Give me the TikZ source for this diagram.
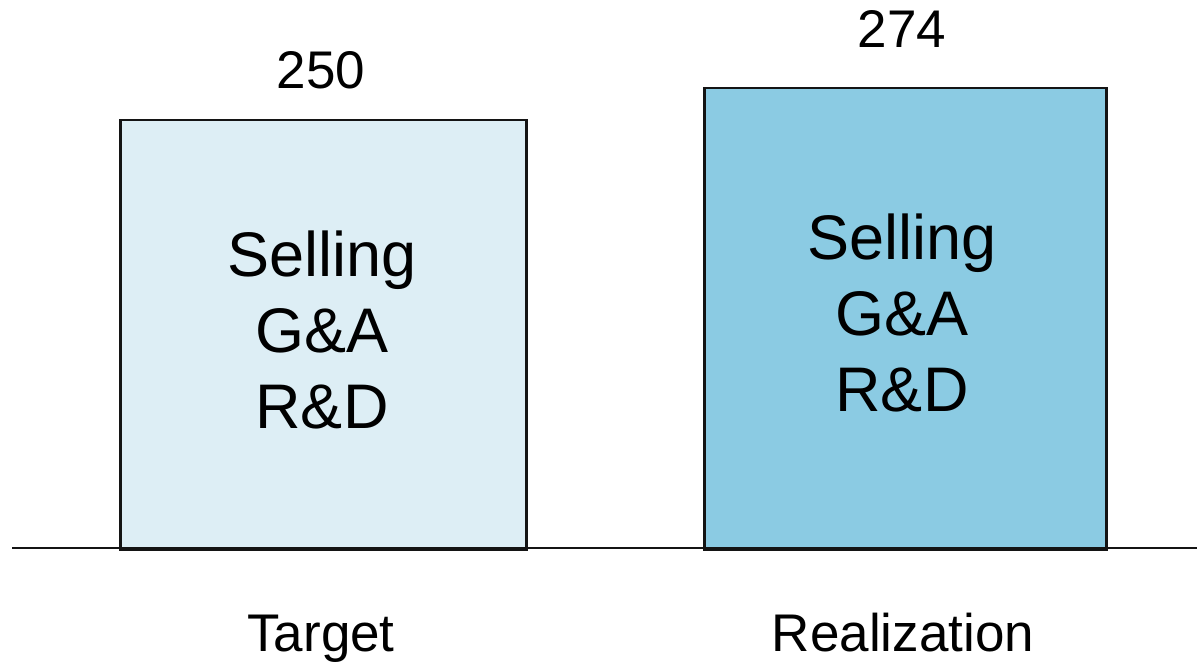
\documentclass[tikz,border=0pt]{standalone}
\usepackage{fontspec}
\setmainfont{Liberation Sans}
\definecolor{targetfill}{HTML}{DDEEF5}
\definecolor{realfill}{HTML}{8BCBE3}
\definecolor{edge}{HTML}{141414}
\begin{document}
\begin{tikzpicture}[x=1pt,y=-1pt,
  bar/.style={draw=edge,line width=2.5pt,anchor=south west,inner sep=0pt},
  inbar/.style={align=center,font=\fontsize{63}{76}\selectfont,anchor=base,inner sep=0pt},
  value/.style={font=\fontsize{53}{64}\selectfont,anchor=base,inner sep=0pt},
  cat/.style={font=\fontsize{53}{64}\selectfont,anchor=base,inner sep=0pt}]
  \useasboundingbox (0,0) rectangle (1197,664);
  % bars
  \node[bar,fill=targetfill,minimum width=406pt,minimum height=428pt] (target) at (119,549) {};
  \node[bar,fill=realfill,minimum width=402pt,minimum height=460pt] (real) at (703,549) {};
  % axis
  \coordinate (axl) at (12,548);
  \coordinate (axr) at (1197,548);
  \draw[edge,line width=2pt] (axl) -- (axr);
  \draw[edge,line width=3pt] (target.south west) -- (target.south east);
  \draw[edge,line width=3pt] (real.south west) -- (real.south east);
  % bar contents (anchored on the baseline of the last line)
  \node[inbar] (tlist) at (322,428) {Selling\\G\&A\\R\&D};
  \node[inbar] (rlist) at (902,411) {Selling\\G\&A\\R\&D};
  % values
  \node[value] (tval) at (321,88) {250};
  \node[value] (rval) at (902,47) {274};
  % categories
  \node[cat] (tcat) at (321,651) {Target};
  \node[cat] (rcat) at (903,651) {Realization};
\end{tikzpicture}
\end{document}
